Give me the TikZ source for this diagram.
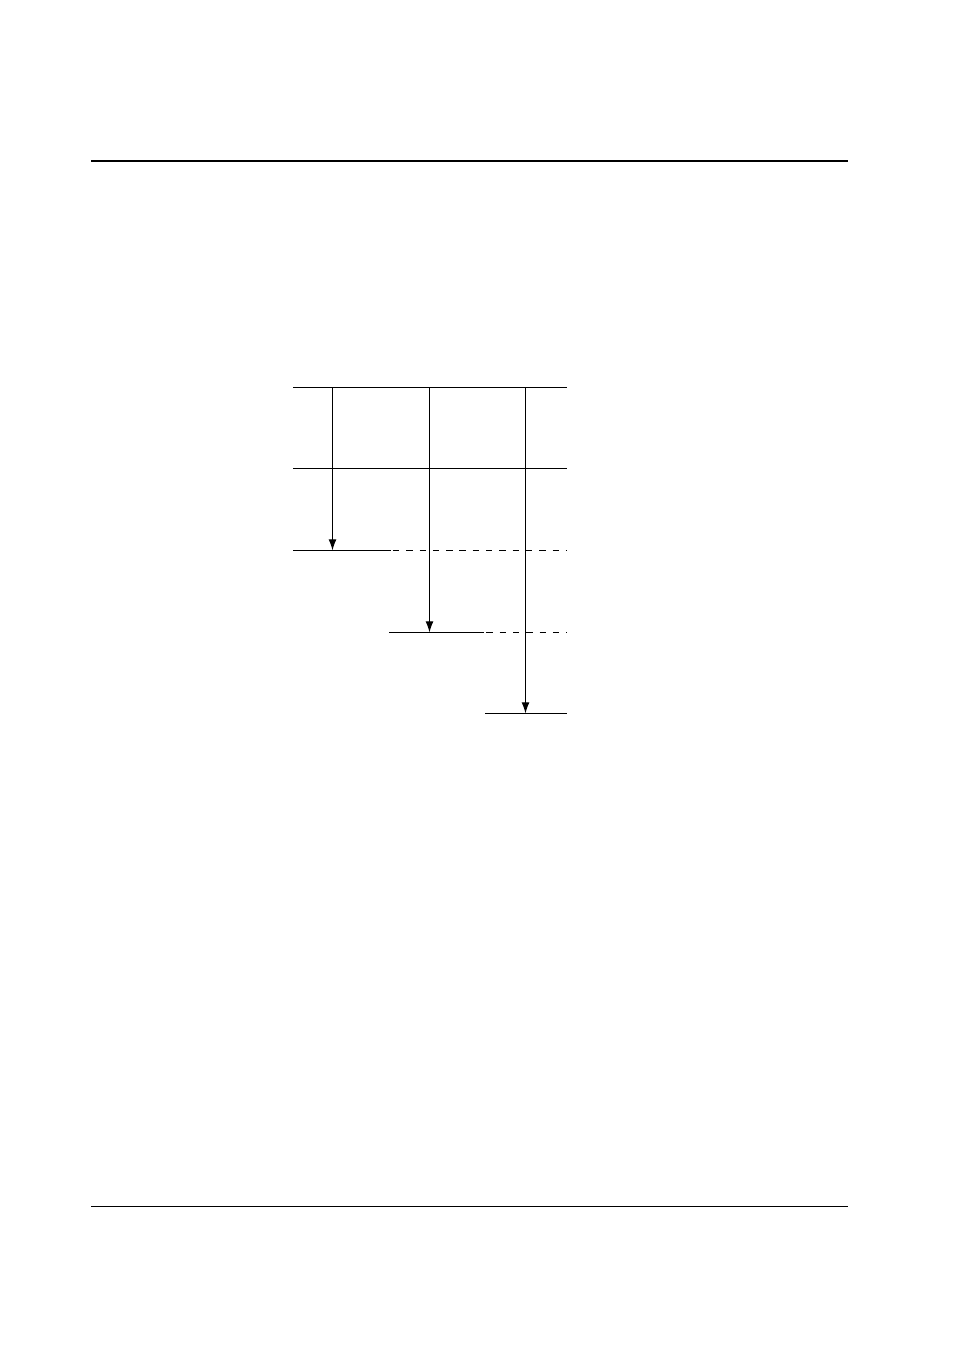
\documentclass[tikz,border=0pt]{standalone}
\usetikzlibrary{arrows.meta}
\begin{document}
\begin{tikzpicture}[x=0.624pt,y=-0.624pt,
  lvl/.style={line width=0.75pt},
  lvldash/.style={line width=0.75pt,dash pattern=on 4pt off 4.3pt},
  trans/.style={line width=0.75pt,-{Latex[length=7pt,width=5pt]}},
  rule/.style={line width=1.25pt}]
\useasboundingbox (0,0) rectangle (954,1351);
% page rules
\coordinate (rtl) at (91,161);
\coordinate (rtr) at (848,161);
\coordinate (rbl) at (91,1206.5);
\coordinate (rbr) at (848,1206.5);
\draw[rule] (rtl) -- (rtr);
\draw[line width=0.62pt] (rbl) -- (rbr);
% levels
\coordinate (l0a) at (293,387.5);  \coordinate (l0b) at (567,387.5);
\coordinate (l1a) at (293,468.5);  \coordinate (l1b) at (567,468.5);
\coordinate (l2a) at (293,550.5);  \coordinate (l2m) at (390.5,550.5); \coordinate (l2b) at (567,550.5);
\coordinate (l3a) at (389,632.5);  \coordinate (l3m) at (484,632.5);   \coordinate (l3b) at (567,632.5);
\coordinate (l4a) at (485,713.5);  \coordinate (l4b) at (567,713.5);
\draw[lvl] (l0a) -- (l0b);
\draw[lvl] (l1a) -- (l1b);
\draw[lvl] (l2a) -- (l2m);
\draw[lvldash] ([xshift=1.5]l2m) -- (l2b);
\draw[lvl] (l3a) -- (l3m);
\draw[lvldash] ([xshift=1.5]l3m) -- (l3b);
\draw[lvl] (l4a) -- (l4b);
% transitions
\coordinate (a1s) at (332.5,387.5); \coordinate (a1e) at (332.5,550.5);
\coordinate (a2s) at (429.5,387.5); \coordinate (a2e) at (429.5,632.5);
\coordinate (a3s) at (525.5,387.5); \coordinate (a3e) at (525.5,713.5);
\draw[trans] (a1s) -- (a1e);
\draw[trans] (a2s) -- (a2e);
\draw[trans] (a3s) -- (a3e);
\end{tikzpicture}
\end{document}
